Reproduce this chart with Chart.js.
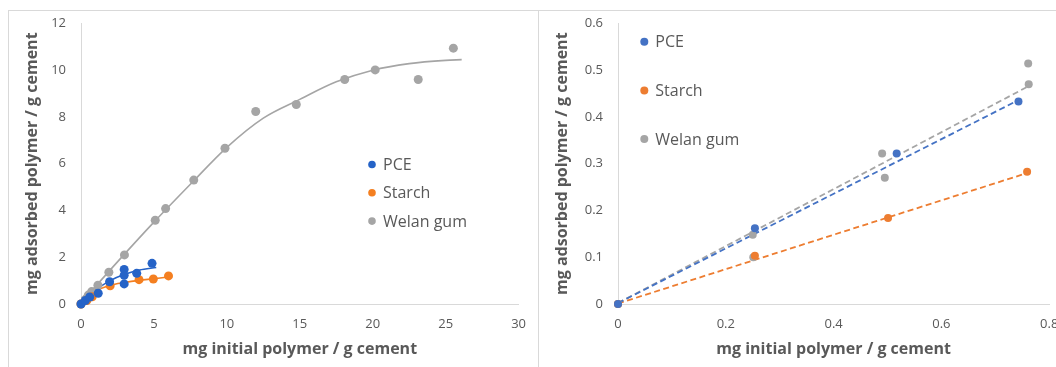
<!DOCTYPE html>
<html>
<head>
<meta charset="utf-8">
<script src="https://cdn.jsdelivr.net/npm/chart.js@4.4.1/dist/chart.umd.min.js"></script>
<style>
    html, body { margin: 0; padding: 0; background: #fff; overflow: hidden; }
    body { width: 1056px; height: 367px; position: relative; }
    .panel { position: absolute; top: 10px; height: 400px; border: 1px solid #d9d9d9; box-sizing: border-box; }
    #panel-left  { left: 8px;   width: 531px; }
    #panel-right { left: 538px; width: 560px; }
    canvas { position: absolute; top: 0; }
    #chart-left  { left: 0; }
    #chart-right { left: 538px; }
</style>
</head>
<body>
<div class="panel" id="panel-left"></div>
<div class="panel" id="panel-right"></div>
<canvas id="chart-left" width="538" height="367"></canvas>
<canvas id="chart-right" width="542" height="367"></canvas>
<script>
// ── Full dosage range (left) ───────────────────────────────────────────────

const pceInitial    = [0, 0.3, 0.6, 1.18, 1.96, 2.96, 2.96, 2.96, 3.82, 4.87];
const pceAdsorbed   = [0, 0.15, 0.3, 0.46, 0.95, 1.48, 1.23, 0.86, 1.31, 1.74];
const starchInitial  = [0, 0.4, 0.77, 2.0, 3.98, 4.96, 6.0];
const starchAdsorbed = [0, 0.15, 0.31, 0.78, 1.04, 1.07, 1.2];
const welanInitial  = [0, 0.3, 0.5, 0.73, 1.16, 1.91, 2.98, 5.09, 5.8, 7.73, 9.87, 11.98, 14.76, 18.08, 20.17, 23.12, 25.53];
const welanAdsorbed = [0, 0.2, 0.38, 0.53, 0.8, 1.36, 2.1, 3.58, 4.08, 5.3, 6.66, 8.23, 8.53, 9.6, 10.01, 9.6, 10.94];

// trend curves (read along the drawn fits)
const pceFitX    = [0, 0.5, 1, 2, 3, 4, 5.16];
const pceFitY    = [0.08, 0.35, 0.6, 1.0, 1.27, 1.45, 1.56];
const starchFitX = [0, 0.5, 1, 2, 3, 4, 5, 6.05];
const starchFitY = [0.1, 0.35, 0.55, 0.8, 0.92, 1.01, 1.08, 1.16];
const welanFitX  = [0, 2.5, 5, 7.5, 10, 12.5, 15, 17.5, 20, 22.5, 25, 26.1];
const welanFitY  = [0.05, 1.8, 3.5, 5.12, 6.7, 7.95, 8.75, 9.5, 10.0, 10.28, 10.42, 10.45];

// ── Low dosage range (right) ───────────────────────────────────────────────

const pceLowInitial     = [0, 0.254, 0.517, 0.743];
const pceLowAdsorbed    = [0, 0.162, 0.322, 0.433];
const starchLowInitial  = [0, 0.254, 0.501, 0.759];
const starchLowAdsorbed = [0, 0.103, 0.184, 0.283];
const welanLowInitial   = [0, 0.25, 0.251, 0.49, 0.495, 0.761, 0.762];
const welanLowAdsorbed  = [0, 0.148, 0.1, 0.322, 0.27, 0.514, 0.47];

// linear trendlines, end points
const pceLowFitX    = [0, 0.743];
const pceLowFitY    = [0.002, 0.436];
const starchLowFitX = [0, 0.759];
const starchLowFitY = [0.001, 0.28];
const welanLowFitX  = [0, 0.762];
const welanLowFitY  = [0.002, 0.466];

const seriesNames = ['PCE', 'Starch', 'Welan gum'];
const xTitle = 'mg initial polymer / g cement';
const yTitle = 'mg adsorbed polymer / g cement';

// ── Helpers ────────────────────────────────────────────────────────────────

const GRAY = '#a5a5a5';
const TEXT = '#595959';
const AXIS = '#d9d9d9';

Chart.defaults.font.family = '"Open Sans", sans-serif';
Chart.defaults.color = TEXT;

const pairs = (xs, ys) => xs.map((x, i) => ({ x, y: ys[i] }));

function points(label, xs, ys, color, radius) {
    return {
        label, data: pairs(xs, ys),
        showLine: false, pointRadius: radius, pointHoverRadius: radius,
        pointBackgroundColor: color, pointBorderWidth: 0,
        clip: false, order: 0,
    };
}

function fit(xs, ys, color, dashed) {
    return {
        label: '', isFit: true, data: pairs(xs, ys),
        showLine: true, pointRadius: 0, borderColor: color,
        borderWidth: dashed ? 1.8 : 1.6,
        borderDash: dashed ? [6, 3.5] : [],
        cubicInterpolationMode: dashed ? 'default' : 'monotone',
        clip: false, order: 1,
    };
}

// legend with round markers, placed at a fixed spot inside the plot
const dotLegend = {
    id: 'dotLegend',
    afterDraw(chart, args, opts) {
        const { ctx } = chart;
        const items = chart.data.datasets.filter(d => !d.isFit);
        ctx.save();
        ctx.font = '16px "Open Sans", sans-serif';
        ctx.textBaseline = 'middle';
        items.forEach((ds, i) => {
            const y = opts.y + i * opts.gap;
            ctx.fillStyle = ds.pointBackgroundColor;
            ctx.beginPath();
            ctx.arc(opts.x, y, opts.r, 0, Math.PI * 2);
            ctx.fill();
            ctx.fillStyle = TEXT;
            ctx.fillText(ds.label, opts.x + 11, y + 1);
        });
        ctx.restore();
    },
};

function axes(xMax, xStep, yMax, yStep, yWidth, yTitlePad) {
    const tickFont = { size: 13 };
    const titleFont = { size: 16, weight: 'bold' };
    return {
        x: {
            type: 'linear', min: 0, max: xMax,
            ticks: { stepSize: xStep, padding: 12, font: tickFont, color: TEXT },
            grid: { display: false, drawTicks: false },
            border: { color: AXIS, width: 1 },
            title: { display: true, text: xTitle, font: titleFont, color: TEXT, padding: { top: 0, bottom: 8 } },
            afterFit: s => { s.height = 63; },
        },
        y: {
            type: 'linear', min: 0, max: yMax,
            ticks: { stepSize: yStep, padding: 15, font: tickFont, color: TEXT },
            grid: { display: false, drawTicks: false },
            border: { color: AXIS, width: 1 },
            title: { display: true, text: yTitle, font: titleFont, color: TEXT, padding: { top: yTitlePad, bottom: 0 } },
            afterFit: s => { s.width = yWidth; },
        },
    };
}

// ── Left chart ─────────────────────────────────────────────────────────────

new Chart(document.getElementById('chart-left'), {
    type: 'scatter',
    data: {
        datasets: [
            points(seriesNames[0], pceInitial, pceAdsorbed, '#2563c7', 4.5),
            points(seriesNames[1], starchInitial, starchAdsorbed, '#f47f20', 4.5),
            points(seriesNames[2], welanInitial, welanAdsorbed, GRAY, 4.5),
            fit(pceFitX, pceFitY, '#2563c7', false),
            fit(starchFitX, starchFitY, '#f47f20', false),
            fit(welanFitX, welanFitY, GRAY, false),
        ],
    },
    options: {
        responsive: false,
        animation: false,
        layout: { padding: { left: 0, top: 23.4, right: 17.3, bottom: 0 } },
        plugins: {
            legend: { display: false },
            tooltip: { enabled: false },
            dotLegend: { x: 372, y: 164.5, gap: 28.3, r: 3.8 },
        },
        scales: axes(30, 5, 12, 2, 81, 22.7),
    },
    plugins: [dotLegend],
});

// ── Right chart ────────────────────────────────────────────────────────────

new Chart(document.getElementById('chart-right'), {
    type: 'scatter',
    data: {
        datasets: [
            points(seriesNames[0], pceLowInitial, pceLowAdsorbed, '#4472c4', 4),
            points(seriesNames[1], starchLowInitial, starchLowAdsorbed, '#ed7d31', 4),
            points(seriesNames[2], welanLowInitial, welanLowAdsorbed, GRAY, 4),
            fit(pceLowFitX, pceLowFitY, '#4472c4', true),
            fit(starchLowFitX, starchLowFitY, '#ed7d31', true),
            fit(welanLowFitX, welanLowFitY, GRAY, true),
        ],
    },
    options: {
        responsive: false,
        animation: false,
        layout: { padding: { left: 0, top: 23.4, right: 30.8, bottom: 0 } },
        plugins: {
            legend: { display: false },
            tooltip: { enabled: false },
            dotLegend: { x: 106.3, y: 41.7, gap: 48.7, r: 4 },
        },
        scales: axes(0.8, 0.2, 0.6, 0.1, 80, 14.7),
    },
    plugins: [dotLegend],
});
</script>
</body>
</html>
